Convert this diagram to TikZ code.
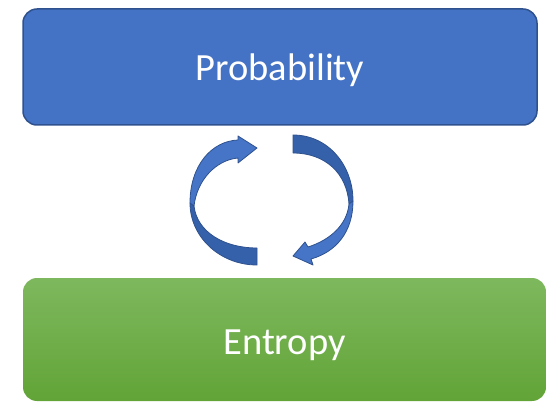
\documentclass[tikz,border=0pt]{standalone}
\usepackage{fontspec}
\setmainfont{Carlito}
\definecolor{boxblue}{HTML}{4472C4}
\definecolor{edgeblue}{HTML}{2F528F}
\definecolor{darkblue}{HTML}{3561AA}
\definecolor{lightblue}{HTML}{4674C6}
\definecolor{greentop}{HTML}{7EB85E}
\definecolor{greenbot}{HTML}{62A437}
\tikzset{
  box/.style={rounded corners=14pt, text=white, font=\fontsize{38.5}{42}\selectfont, inner sep=0pt},
  bandback/.style={fill=darkblue, draw=edgeblue, line width=0.8pt, line join=round},
  bandfront/.style={fill=lightblue, draw=edgeblue, line width=0.8pt, line join=round}
}
\begin{document}
\begin{tikzpicture}[x=1pt,y=-1pt]
\useasboundingbox (0,0) rectangle (547,404);
\clip (0,0) rectangle (547,404);
% boxes
\node[box, fill=boxblue, draw=edgeblue, line width=1.5pt, minimum width=514pt, minimum height=116pt] (prob) at (280,67) {\raisebox{-3pt}[\height][\depth]{Probability}};
\node[box, top color=greentop, bottom color=greenbot, minimum width=523pt, minimum height=123pt] (ent) at (284.5,339.5) {\raisebox{-6pt}[\height][\depth]{Entropy}};
% left curved arrow (back band)
\path[bandback] (257,265) .. controls (220,265) and (190,237) .. (190,203)
  -- (194,206) .. controls (197,232) and (224,248) .. (257,248) -- cycle;
% left curved arrow (front band with head)
\path[bandfront] (190,203) .. controls (190,165) and (212,141) .. (238,140)
  -- (238,136) -- (257,148) -- (238,163) -- (238,158)
  .. controls (216,160) and (197,180) .. (194,206) -- cycle;
% right curved arrow (back band)
\path[bandback] (293,135) .. controls (328,135) and (353,165) .. (353,201)
  -- (349,204) .. controls (347,173) and (325,153) .. (293,153) -- cycle;
% right curved arrow (front band with head)
\path[bandfront] (353,201) .. controls (353,232) and (336,252) .. (311,259)
  -- (313,265) -- (293,256) -- (305,242) -- (308,247)
  .. controls (330,240) and (347,225) .. (349,204) -- cycle;
\end{tikzpicture}
\end{document}
